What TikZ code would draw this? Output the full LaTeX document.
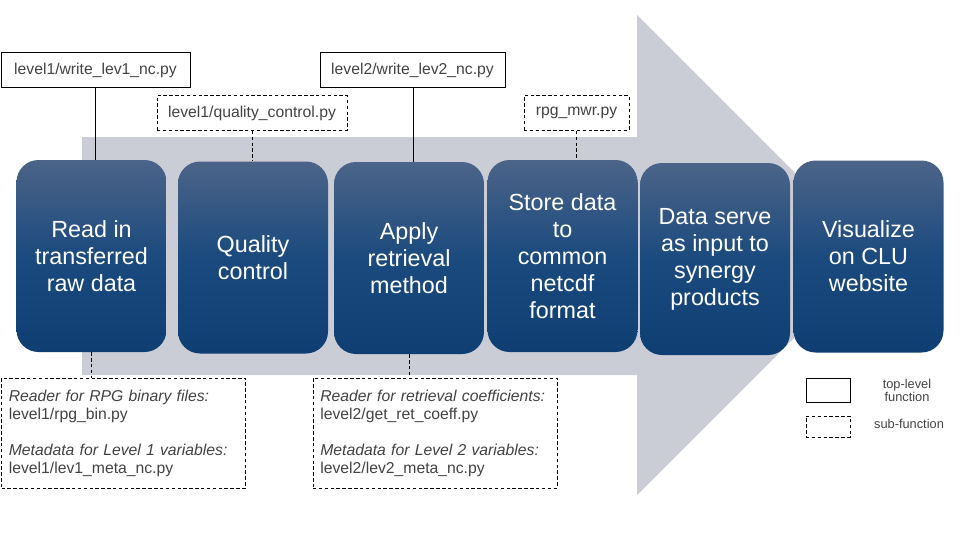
\documentclass[tikz,border=0pt]{standalone}
\usepackage{fontspec}
\setmainfont{Liberation Sans}
\usetikzlibrary{calc}
\definecolor{arrowgray}{HTML}{CACDD5}
\definecolor{boxtop}{HTML}{4C6488}
\definecolor{boxmid}{HTML}{1B4A7E}
\definecolor{boxbot}{HTML}{0F3F72}
\definecolor{labelgray}{HTML}{424242}

\tikzset{
	stepbox/.style={rounded corners=16.5pt, top color=boxtop, bottom color=boxbot, middle color=boxmid,
		minimum width=112.5pt, minimum height=144pt, text=white, align=center,
		font=\fontsize{17.5}{20.3}\selectfont},
	topfn/.style={draw, line width=0.75pt, minimum height=26pt, inner sep=0pt, text=labelgray,
		font=\fontsize{11.8}{13.5}\selectfont},
	subfn/.style={topfn, dash pattern=on 2.6pt off 1.8pt},
	subtext/.style={subfn, text width=172pt, inner xsep=5.5pt, align=left, minimum height=82.5pt},
	link/.style={line width=0.75pt},
	sublink/.style={link, dash pattern=on 2.6pt off 1.8pt},
	legtext/.style={text=labelgray, align=center, font=\fontsize{9.6}{10}\selectfont}
}

\begin{document}
\begin{tikzpicture}[x=0.75pt,y=-0.75pt]
	\useasboundingbox (0,0) rectangle (960,540);
	
	% big arrow behind the steps
	\fill[arrowgray] (82,137) -- (637,137) -- (637,15) -- (877,255) -- (637,495) -- (637,375) -- (82,375) -- cycle;
	
	% processing steps
	\node[stepbox] (read) at (91.5,256) {Read in\\transferred\\raw data};
	\node[stepbox] (qc) at (253,257.5) {Quality\\control};
	\node[stepbox] (retr) at (409,258) {Apply\\retrieval\\method};
	\node[stepbox] (store) at (562.5,256) {Store data\\to\\common\\netcdf\\format};
	\node[stepbox] (serve) at (715,259) {Data serve\\as input to\\synergy\\products};
	\node[stepbox] (visu) at (868.5,256.5) {Visualize\\on CLU\\website};
	
	% functions above
	\node[topfn, minimum width=141.75pt] (wlev1) at (95.5,70) {level1/write\_lev1\_nc.py};
	\node[subfn, minimum width=142.5pt] (qcfile) at (252,113) {level1/quality\_control.py};
	\node[topfn, minimum width=138.75pt] (wlev2) at (412.5,70) {level2/write\_lev2\_nc.py};
	\node[subfn, minimum width=78.75pt] (mwr) at (576.5,113) {rpg\_mwr.py};
	
	% functions below
	\node[subtext] (rdlev1) at (123.5,433) {\textit{Reader for RPG binary files:}\\level1/rpg\_bin.py\\[13.5pt]\textit{Metadata for Level 1 variables:}\\level1/lev1\_meta\_nc.py};
	\node[subtext] (rdlev2) at (435,433) {\textit{Reader for retrieval coefficients:}\\level2/get\_ret\_coeff.py\\[13.5pt]\textit{Metadata for Level 2 variables:}\\level2/lev2\_meta\_nc.py};
	
	\draw[link] (wlev1.south) -- (wlev1.south |- read.north);
	\draw[sublink] (qcfile.south) -- (qcfile.south |- qc.north);
	\draw[link] ($(wlev2.south)+(1,0)$) -- ($(wlev2.south |- retr.north)+(1,0)$);
	\draw[sublink] (mwr.south) -- (mwr.south |- store.north);
	\draw[sublink] (read.south) -- (read.south |- rdlev1.north);
	\draw[sublink] (retr.south) -- (retr.south |- rdlev2.north);
	
	% legend
	\node[topfn, minimum width=33pt, minimum height=18pt] (legtop) at (828,390) {};
	\node[subfn, minimum width=33pt, minimum height=15.75pt] (legsub) at (828,426.5) {};
	\node[legtext] (legtoptxt) at (907,390.5) {top-level\\function};
	\node[legtext] (legsubtxt) at (909,424) {sub-function};
\end{tikzpicture}
\end{document}
